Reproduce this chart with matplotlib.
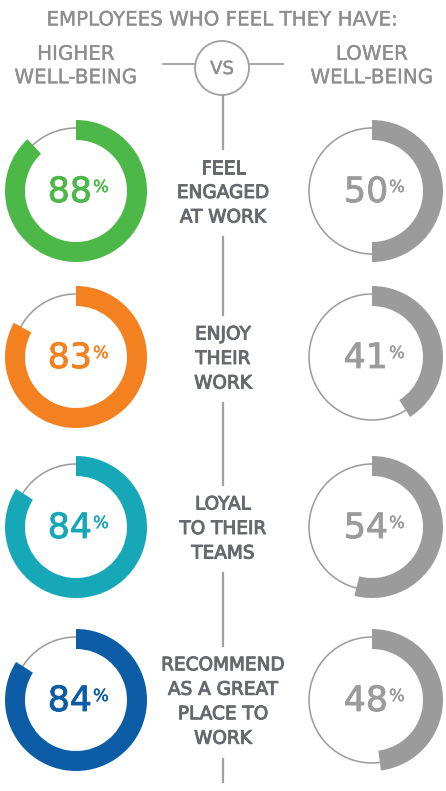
import matplotlib
matplotlib.use("Agg")
from matplotlib import pyplot as plt
from matplotlib.patches import Wedge, Circle
import matplotlib.patheffects as pe

# data
labels = [["FEEL", "ENGAGED", "AT WORK"],
          ["ENJOY", "THEIR", "WORK"],
          ["LOYAL", "TO THEIR", "TEAMS"],
          ["RECOMMEND", "AS A GREAT", "PLACE TO", "WORK"]]
higher = [88, 83, 84, 84]
lower = [50, 41, 54, 48]
higher_colors = ["#4cb848", "#f4811f", "#17a8b8", "#0c5da5"]
lower_color = "#9b9b9b"

title = "EMPLOYEES WHO FEEL THEY HAVE:"
left_head = "HIGHER\nWELL-BEING"
right_head = "LOWER\nWELL-BEING"

W, H = 446, 791
fig = plt.figure(figsize=(W / 100, H / 100), dpi=100)
ax = fig.add_axes([0, 0, 1, 1])
ax.set_xlim(0, W)
ax.set_ylim(H, 0)
ax.set_aspect("equal")
ax.axis("off")

head_col = "#8e8e8e"
lab_col = "#66696e"
line_col = "#a0a0a0"
font = "DejaVu Sans"


def thick(col, lw=0.3):
    return [pe.withStroke(linewidth=lw, foreground=col)]


# header
ax.text(223, 20, title, ha="center", va="center", fontsize=14.3, color=head_col,
        family=font, path_effects=thick(head_col, 0.25))
ax.text(76, 66, left_head, ha="center", va="center", fontsize=14.3, color=head_col,
        family=font, linespacing=1.3, path_effects=thick(head_col, 0.25))
ax.text(372, 66, right_head, ha="center", va="center", fontsize=14.3, color=head_col,
        family=font, linespacing=1.3, path_effects=thick(head_col, 0.25))

# VS badge
vx, vy, vr = 222, 68, 27
ax.add_patch(Circle((vx, vy), vr, fill=False, ec=line_col, lw=1.3))
ax.text(vx, vy + 1, "VS", ha="center", va="center", fontsize=13, color=head_col,
        family=font, path_effects=thick(head_col, 0.25))
ax.plot([163, vx - vr], [64, 64], color=line_col, lw=1.3)
ax.plot([vx + vr, 283], [64, 64], color=line_col, lw=1.3)

centers = [191, 357, 527, 700]
cx_left, cx_right = 76, 372
r_out, width, r_thin = 71, 20, 63
line_x = 223
line_h = 24.5

seg_start = vy + vr
for i, lab in enumerate(labels):
    cy = centers[i]
    ty = cy + 2
    n = len(lab)
    for k, word in enumerate(lab):
        ax.text(line_x, ty + (k - (n - 1) / 2) * line_h, word, ha="center", va="center",
                fontsize=13.3, color=lab_col, family=font,
                path_effects=thick(lab_col, 0.7))
    half = (n * line_h - 7) / 2 + 11
    ax.plot([line_x, line_x], [seg_start, ty - half], color=line_col, lw=1.6)
    seg_start = ty + half

    # donuts: left = higher well-being, right = lower
    for cx, val, col in [(cx_left, higher[i], higher_colors[i]),
                         (cx_right, lower[i], lower_color)]:
        ax.add_patch(Circle((cx, cy), r_thin, fill=False, ec="#9a9a9a", lw=1.1))
        ax.add_patch(Wedge((cx, cy), r_out, -90, -90 + 360 * val / 100, width=width,
                           fc=col, ec="none"))
        ax.text(cx + 16, cy + 1, str(val), ha="right", va="center", fontsize=25,
                color=col, family=font, path_effects=thick(col, 0.6))
        ax.text(cx + 17, cy - 13, "%", ha="left", va="top", fontsize=12,
                color=col, family=font, path_effects=thick(col, 0.3))

ax.plot([line_x, line_x], [seg_start, 782], color=line_col, lw=1.6)

fig.savefig("out.png", dpi=100, facecolor="white")
